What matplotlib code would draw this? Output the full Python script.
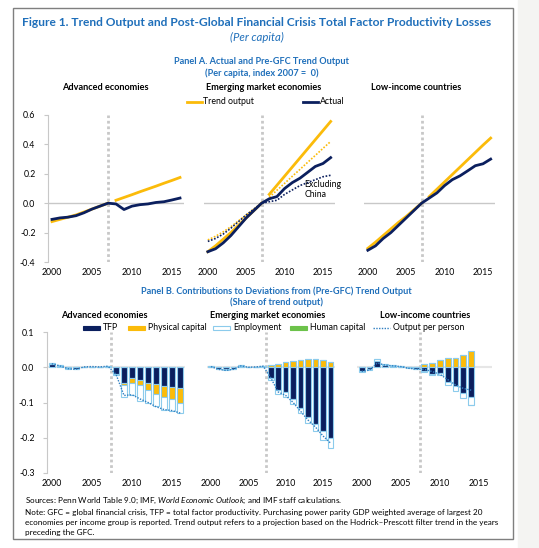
import numpy as np
import matplotlib.pyplot as plt
from matplotlib.patches import Rectangle
from matplotlib.lines import Line2D

plt.rcParams['font.family'] = ['Lato', 'DejaVu Sans']
plt.rcParams['mathtext.fontset'] = 'custom'
plt.rcParams['mathtext.rm'] = 'Lato'
plt.rcParams['mathtext.it'] = 'Lato:italic'

W, H = 539, 548
NAVY = '#0b1f5e'
YEL = '#fbbb0a'
EDGE = '#8ccbec'
GREEN = '#6cc24a'
BLUE_T = '#1f6fba'
GRID = '#c8c8c8'

# ---------------- Panel A data (per capita, index 2007 = 0) ----------------
years_a = list(range(2000, 2017))
pre_years = list(range(2000, 2008))
post_years = list(range(2008, 2017))

adv_actual = [-0.11, -0.10, -0.095, -0.085, -0.065, -0.04, -0.02, 0.0,
              -0.005, -0.043, -0.02, -0.01, -0.005, 0.005, 0.01, 0.022, 0.035]
adv_trend_pre = [-0.125, -0.11, -0.095, -0.08, -0.06, -0.04, -0.02, 0.0]
adv_trend_post = [0.02, 0.039, 0.058, 0.078, 0.097, 0.116, 0.136, 0.155, 0.175]

em_actual = [-0.33, -0.31, -0.27, -0.22, -0.16, -0.10, -0.05, 0.0,
             0.03, 0.045, 0.10, 0.14, 0.17, 0.21, 0.25, 0.27, 0.31]
em_trend_pre = [-0.33, -0.29, -0.245, -0.20, -0.15, -0.10, -0.05, 0.0]
em_trend_post = [0.06, 0.122, 0.184, 0.246, 0.308, 0.37, 0.432, 0.494, 0.556]
em_xc_actual = [-0.26, -0.24, -0.21, -0.17, -0.125, -0.08, -0.04, 0.0,
                0.01, 0.02, 0.06, 0.09, 0.12, 0.14, 0.16, 0.18, 0.19]
em_xc_trend_pre = [-0.25, -0.225, -0.195, -0.16, -0.12, -0.08, -0.04, 0.0]
em_xc_trend_post = [0.04, 0.088, 0.135, 0.183, 0.23, 0.278, 0.325, 0.373, 0.42]

li_actual = [-0.32, -0.29, -0.24, -0.20, -0.15, -0.10, -0.05, 0.0,
             0.035, 0.07, 0.12, 0.16, 0.186, 0.22, 0.255, 0.268, 0.30]
li_trend_pre = [-0.307, -0.265, -0.22, -0.175, -0.13, -0.09, -0.045, 0.0]
li_trend_post = [0.045, 0.095, 0.145, 0.195, 0.245, 0.295, 0.345, 0.395, 0.443]

# ---------------- Panel B data (share of trend output) ----------------
years_b = list(range(2000, 2017))
adv_tfp = [0.008, 0.003, -0.002, -0.004, 0.001, 0.001, 0.001, 0.002,
           -0.019, -0.045, -0.030, -0.035, -0.045, -0.048, -0.052, -0.055, -0.060]
adv_kap = [0, 0, 0, 0, 0, 0, 0, 0,
           -0.002, -0.005, -0.015, -0.015, -0.020, -0.027, -0.033, -0.035, -0.040]
adv_emp = [0.003, 0.002, -0.002, -0.002, 0.001, 0.001, 0.0, 0.001,
           -0.002, -0.035, -0.035, -0.045, -0.035, -0.035, -0.035, -0.035, -0.030]
adv_hc = [0] * 17
adv_opp = [0.01, 0.004, -0.004, -0.006, 0.001, 0.002, 0.001, 0.003,
           -0.02, -0.08, -0.078, -0.09, -0.10, -0.112, -0.12, -0.123, -0.13]

em_tfp = [0.002, -0.004, -0.006, -0.004, 0.002, 0.0, 0.0, 0.002,
          -0.03, -0.065, -0.07, -0.09, -0.115, -0.14, -0.16, -0.18, -0.20]
em_kap = [0, 0, 0, 0, 0.001, 0, 0, 0.001,
          0.005, 0.01, 0.014, 0.018, 0.021, 0.022, 0.022, 0.02, 0.016]
em_emp = [0.001, -0.002, -0.003, -0.002, 0.002, 0.0, 0.001, 0.001,
          -0.005, -0.01, -0.013, -0.015, -0.015, -0.018, -0.02, -0.025, -0.03]
em_hc = [0] * 17
em_opp = [0.002, -0.006, -0.009, -0.006, 0.004, 0.0, 0.001, 0.003,
          -0.03, -0.07, -0.08, -0.10, -0.125, -0.15, -0.17, -0.195, -0.215]

years_li = list(range(2000, 2015))
li_tfp = [-0.01, -0.006, 0.018, 0.006, 0.004, 0.002, -0.002, -0.004,
          -0.01, -0.018, -0.015, -0.043, -0.054, -0.073, -0.085]
li_kap = [0, 0, 0, 0, 0, 0, 0, 0.002,
          0.008, 0.012, 0.02, 0.025, 0.027, 0.036, 0.045]
li_emp = [-0.003, -0.003, 0.004, 0.002, 0.002, 0.001, 0.0, -0.002,
          -0.003, -0.004, -0.006, -0.007, -0.012, -0.014, -0.021]
li_hc = [0] * 14 + [-0.002]
li_opp = [-0.012, -0.008, 0.012, 0.006, 0.004, 0.002, -0.003, -0.005,
          -0.006, -0.012, -0.02, -0.035, -0.05, -0.06, -0.065]


def px_axes(fig, left, top, right, bottom):
    # add axes using pixel positions measured from the top-left corner
    return fig.add_axes([left / W, 1 - bottom / H, (right - left) / W, (bottom - top) / H])


def ftext(fig, x, y, s, **kw):
    fig.text(x / W, 1 - y / H, s, **kw)


def style_axes(ax, show_y, yticks, ylim, xlim):
    ax.set_xlim(*xlim)
    ax.set_ylim(*ylim)
    ax.patch.set_alpha(0)
    for s in ['top', 'right', 'bottom']:
        ax.spines[s].set_visible(False)
    ax.spines['left'].set_color(GRID)
    ax.spines['left'].set_visible(show_y)
    ax.set_xticks([2000, 2005, 2010, 2015])
    ax.tick_params(axis='x', length=0, labelsize=6.3, pad=4)
    if show_y:
        ax.set_yticks(yticks)
        ax.set_yticklabels(['%.1f' % v for v in yticks])
        ax.tick_params(axis='y', length=3, color=GRID, labelsize=6.3, pad=6)
    else:
        ax.set_yticks([])


def panel_a(ax, actual, trend_pre, trend_post, show_y):
    style_axes(ax, show_y, [-0.4, -0.2, 0.0, 0.2, 0.4, 0.6], (-0.4, 0.6), (1999.5, 2016.5))
    ax.axhline(0, color=GRID, lw=1, zorder=1)
    ax.axvline(2007, color=GRID, lw=2, ls=(0, (1, 1)), zorder=1)
    ax.plot(pre_years, trend_pre, color=YEL, lw=2, zorder=3)
    ax.plot(post_years, trend_post, color=YEL, lw=2, zorder=3)
    ax.plot(years_a, actual, color=NAVY, lw=2, zorder=4)


def panel_b(ax, yrs, tfp, kap, emp, hc, opp, show_y):
    style_axes(ax, show_y, [-0.3, -0.2, -0.1, 0.0, 0.1], (-0.3, 0.1), (1999.4, 2016.6))
    ax.axhline(0, color='#e6e6e6', lw=1.5, zorder=1)
    ax.axvline(2007.4, color=GRID, lw=2, ls=(0, (1, 1)), zorder=1)
    pos = np.zeros(len(yrs))
    neg = np.zeros(len(yrs))
    for vals, col in [(tfp, NAVY), (kap, YEL), (emp, 'white'), (hc, GREEN)]:
        v = np.array(vals, dtype=float)
        base = np.where(v >= 0, pos, neg)
        ax.bar(yrs, v, 0.75, bottom=base, color=col, edgecolor=EDGE, lw=0.8, zorder=3)
        pos = pos + np.where(v >= 0, v, 0)
        neg = neg + np.where(v < 0, v, 0)
    ax.plot(yrs, opp, color='#2f7fc1', lw=1, ls=(0, (1, 1)), zorder=4)


fig = plt.figure(figsize=(W / 100, H / 100), dpi=100)
fig.patches.append(Rectangle((518 / W, 0), 1, 1, transform=fig.transFigure, color='#f4f4f2', zorder=0))
fig.patches.append(Rectangle((13 / W, 1 - 539 / H), 500 / W, 531 / H, transform=fig.transFigure,
                             fill=False, ec='#7f7f7f', lw=1, zorder=1))

# titles
ftext(fig, 257, 22, 'Figure 1. Trend Output and Post-Global Financial Crisis Total Factor Productivity Losses',
      ha='center', va='center', fontsize=8.65, fontweight='bold', color=BLUE_T)
ftext(fig, 257, 37, '(Per capita)', ha='center', va='center', fontsize=8.2, style='italic', color=BLUE_T)
ftext(fig, 262, 61, 'Panel A. Actual and Pre-GFC Trend Output', ha='center', va='center',
      fontsize=6.6, fontweight='bold', color=BLUE_T)
ftext(fig, 262, 73, '(Per capita, index 2007 =  0)', ha='center', va='center',
      fontsize=6.6, fontweight='bold', color=BLUE_T)
for x, s in [(105, 'Advanced economies'), (264, 'Emerging market economies'), (416, 'Low-income countries')]:
    ftext(fig, x, 88, s, ha='center', va='center', fontsize=6.6, fontweight='bold')

ax1 = px_axes(fig, 48, 115, 184, 262)
ax2 = px_axes(fig, 204, 115, 334.5, 262)
ax3 = px_axes(fig, 364, 115, 494.5, 262)
panel_a(ax1, adv_actual, adv_trend_pre, adv_trend_post, True)
panel_a(ax2, em_actual, em_trend_pre, em_trend_post, False)
ax2.plot(pre_years, em_xc_trend_pre, color=YEL, lw=1.2, ls=(0, (1, 1)), zorder=3)
ax2.plot(post_years, em_xc_trend_post, color=YEL, lw=1.2, ls=(0, (1, 1)), zorder=3)
ax2.plot(years_a, em_xc_actual, color=NAVY, lw=1.2, ls=(0, (1, 1)), zorder=4)
ax2.text(2012.6, 0.095, 'Excluding\nChina', fontsize=6.3, va='center', ha='left', linespacing=1.2)
panel_a(ax3, li_actual, li_trend_pre, li_trend_post, False)

# panel A legend
ftext(fig, 203, 102, 'Trend output', va='center', fontsize=6.3)
ftext(fig, 320, 102, 'Actual', va='center', fontsize=6.3)
fig.add_artist(Line2D([187 / W, 202 / W], [1 - 102 / H] * 2, color=YEL, lw=2))
fig.add_artist(Line2D([303 / W, 318 / W], [1 - 102 / H] * 2, color=NAVY, lw=2))

# panel B
ftext(fig, 276, 291, 'Panel B. Contributions to Deviations from (Pre-GFC) Trend Output', ha='center', va='center',
      fontsize=6.6, fontweight='bold', color=BLUE_T)
ftext(fig, 276, 302, '(Share of trend output)', ha='center', va='center',
      fontsize=6.6, fontweight='bold', color=BLUE_T)
for x, s in [(104, 'Advanced economies'), (268, 'Emerging market economies'), (425, 'Low-income countries')]:
    ftext(fig, x, 316, s, ha='center', va='center', fontsize=6.6, fontweight='bold')

legend_items = [(83, 'TFP', NAVY), (128, 'Physical capital', YEL), (213, 'Employment', 'white'),
                (290, 'Human capital', GREEN)]
for x, s, c in legend_items:
    fig.patches.append(Rectangle((x / W, 1 - 330 / H), 17 / W, 4 / H, transform=fig.transFigure,
                                 fc=c, ec=EDGE if c == 'white' else c, lw=0.8))
    ftext(fig, x + 20, 328, s, va='center', fontsize=6.3)
fig.add_artist(Line2D([373 / W, 390 / W], [1 - 328 / H] * 2, color='#2f7fc1', lw=1, ls=(0, (1, 1))))
ftext(fig, 393, 328, 'Output per person', va='center', fontsize=6.3)

bx1 = px_axes(fig, 47, 332, 185, 473)
bx2 = px_axes(fig, 206.5, 332, 335, 473)
bx3 = px_axes(fig, 357, 332, 491.5, 473)
panel_b(bx1, years_b, adv_tfp, adv_kap, adv_emp, adv_hc, adv_opp, True)
panel_b(bx2, years_b, em_tfp, em_kap, em_emp, em_hc, em_opp, False)
panel_b(bx3, years_li, li_tfp, li_kap, li_emp, li_hc, li_opp, False)

# footnotes
fs = 5.9
ftext(fig, 25, 501, 'Sources: Penn World Table 9.0; IMF, $\\it{World\\ Economic\\ Outlook}$; and IMF staff calculations.',
      va='center', fontsize=fs)
notes = ['Note: GFC = global financial crisis, TFP = total factor productivity. Purchasing power parity GDP weighted average of largest 20',
         'economies per income group is reported. Trend output refers to a projection based on the Hodrick\u2013Prescott filter trend in the years',
         'preceding the GFC.']
for i, s in enumerate(notes):
    ftext(fig, 25, 512 + i * 10, s, va='center', fontsize=fs)

fig.savefig('out.png', dpi=100)
